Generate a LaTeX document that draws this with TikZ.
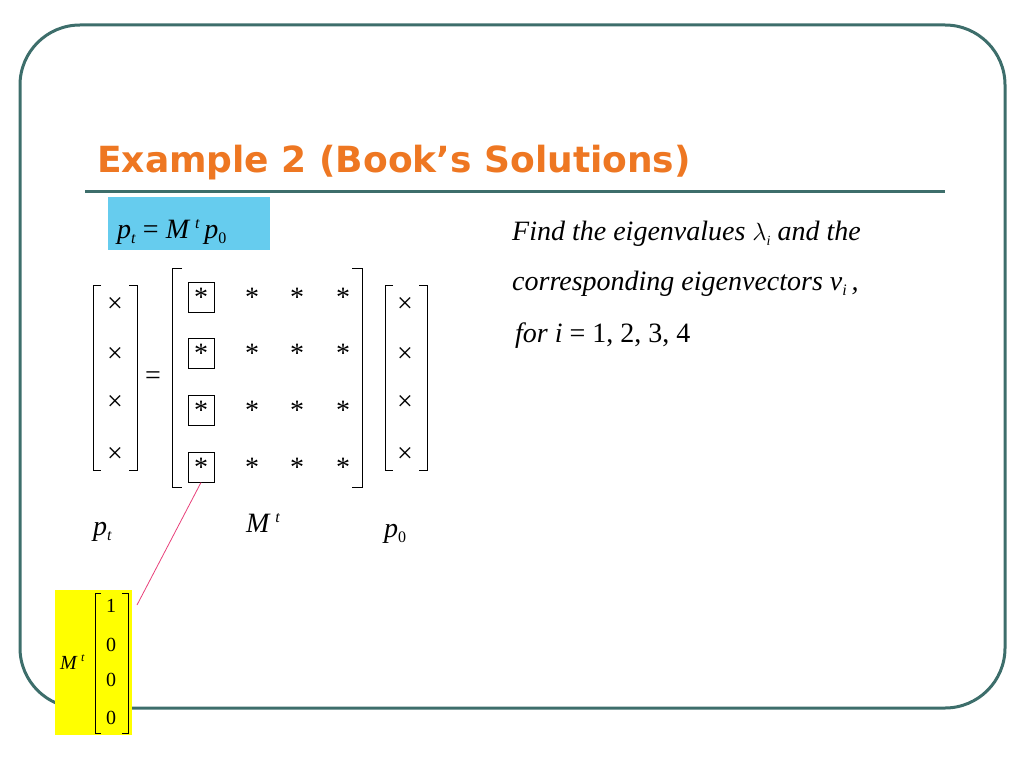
\documentclass[tikz,border=0pt]{standalone}
\usepackage{fontspec}
\setmainfont{Liberation Serif}
\newfontfamily\titlefont{DejaVu Sans}
\definecolor{teal}{HTML}{3D6E6B}
\definecolor{orng}{HTML}{EE7722}
\definecolor{lblue}{HTML}{66CCEE}
\definecolor{yel}{HTML}{FFFF00}
\definecolor{pink}{HTML}{E8407A}
\begin{document}
\begin{tikzpicture}[x=1pt,y=-1pt,
  txt/.style={inner sep=0pt,font=\fontsize{28}{30}\selectfont},
  brk/.style={line width=0.9pt},
  cell/.style={draw,line width=0.9pt,minimum width=26pt,minimum height=30pt,inner sep=0pt}]
\useasboundingbox (0,0) rectangle (1024,768);
\draw[teal,line width=3pt,rounded corners=60pt] (20,25) rectangle (1005,708);
\node[anchor=base west,inner sep=0pt,text=orng,font=\titlefont\bfseries\fontsize{36}{40}\selectfont] (title) at (97,172) {Example 2 (Book’s Solutions)};
\draw[teal,line width=3pt] (85,191) -- (945,191);
% blue box
\node[fill=lblue,minimum width=162pt,minimum height=53pt,inner sep=0pt] (eqbox) at (189,223.5) {};
\node[anchor=base west,inner sep=0pt,font=\fontsize{28}{30}\selectfont] (eq) at (117,238) {\textit{p}\raisebox{-5pt}{\fontsize{16}{16}\selectfont\textit{t}} = \textit{M}\,\raisebox{10pt}{\fontsize{16}{16}\selectfont\textit{t}}\,\textit{p}\raisebox{-5pt}{\fontsize{16}{16}\selectfont 0}};
% left vector
\draw[brk] (101,285) -- (93,285) -- (93,470) -- (101,470);
\draw[brk] (129,285) -- (137,285) -- (137,470) -- (129,470);
\foreach \y/\n in {305/a,355/b,403/c,455/d}{\node[txt] (l\n) at (115,\y) {×};}
\node[txt] (eqs) at (153,378) {=};
% matrix
\draw[brk] (182,268) -- (172,268) -- (172,487) -- (182,487);
\draw[brk] (352,268) -- (362,268) -- (362,487) -- (352,487);
\foreach \y/\n in {297/a,353/b,410/c,467/d}{
  \node[cell,txt] (m\n1) at (201,\y) {*};
  \node[txt] (m\n2) at (252,\y) {*};
  \node[txt] (m\n3) at (297,\y) {*};
  \node[txt] (m\n4) at (343,\y) {*};}
% right vector
\draw[brk] (393,285) -- (385,285) -- (385,470) -- (393,470);
\draw[brk] (419,285) -- (427,285) -- (427,470) -- (419,470);
\foreach \y/\n in {305/a,355/b,403/c,455/d}{\node[txt] (r\n) at (405,\y) {×};}
% labels
\node[anchor=base west,inner sep=0pt,font=\fontsize{28}{30}\selectfont] (lpt) at (93,535) {\textit{p}\raisebox{-5pt}{\fontsize{16}{16}\selectfont\textit{t}}};
\node[anchor=base west,inner sep=0pt,font=\fontsize{28}{30}\selectfont] (lmt) at (246,532) {\textit{M}\,\raisebox{10pt}{\fontsize{16}{16}\selectfont\textit{t}}};
\node[anchor=base west,inner sep=0pt,font=\fontsize{28}{30}\selectfont] (lp0) at (384,537) {\textit{p}\raisebox{-5pt}{\fontsize{16}{16}\selectfont 0}};
% yellow box
\node[fill=yel,minimum width=77pt,minimum height=145pt,inner sep=0pt] (ybox) at (93.5,662.5) {};
\node[anchor=base west,inner sep=0pt,font=\fontsize{20}{22}\selectfont] (ym) at (60,669) {\textit{M}\,\raisebox{8pt}{\fontsize{12}{12}\selectfont\textit{t}}};
\draw[brk] (101,593) -- (95,593) -- (95,733) -- (101,733);
\draw[brk] (122,593) -- (128,593) -- (128,733) -- (122,733);
\foreach \y/\v/\n in {606/1/a,645/0/b,680/0/c,718/0/d}{\node[inner sep=0pt,font=\fontsize{20}{22}\selectfont] (y\n) at (111,\y) {\v};}
\coordinate (pe) at (137,605);
\draw[pink,line width=0.8pt] (md1.south) -- (pe);
% right text
\node[anchor=base west,inner sep=0pt,font=\fontsize{28}{30}\selectfont\itshape] (t1) at (512,240) {Find the eigenvalues $\lambda$\raisebox{-5pt}{\fontsize{14}{14}\selectfont i} and the};
\node[anchor=base west,inner sep=0pt,font=\fontsize{28}{30}\selectfont\itshape] (t2) at (512,290) {corresponding eigenvectors v\raisebox{-5pt}{\fontsize{16}{16}\selectfont i}\,,};
\node[anchor=base west,inner sep=0pt,font=\fontsize{28}{30}\selectfont] (t3) at (515,342) {\textit{for i} = 1, 2, 3, 4};
\end{tikzpicture}
\end{document}
